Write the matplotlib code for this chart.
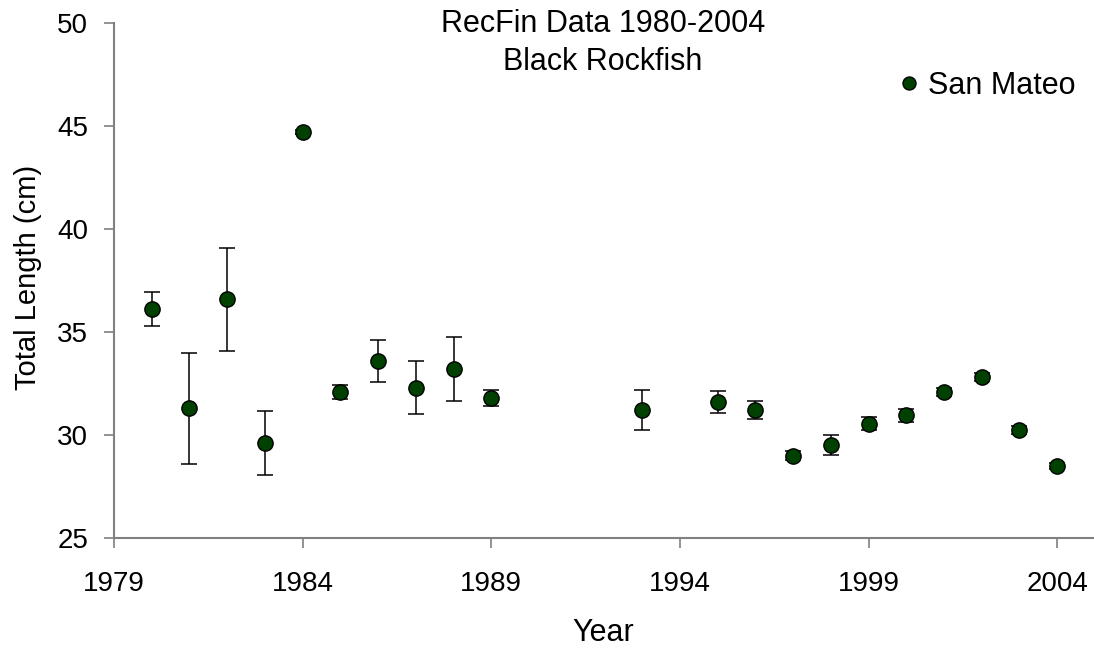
import matplotlib
matplotlib.use("Agg")
import matplotlib.pyplot as plt

plt.rcParams["font.family"] = ["Liberation Sans", "DejaVu Sans"]

# mean total length and error per year, San Mateo
years = [1980, 1981, 1982, 1983, 1984, 1985, 1986, 1987, 1988, 1989,
         1993, 1995, 1996, 1997, 1998, 1999, 2000, 2001, 2002, 2003, 2004]
length = [36.1, 31.3, 36.6, 29.6, 44.7, 32.1, 33.6, 32.3, 33.2, 31.8,
          31.2, 31.6, 31.2, 29.0, 29.5, 30.55, 30.95, 32.1, 32.8, 30.25, 28.5]
err = [0.83, 2.7, 2.5, 1.55, 0.1, 0.34, 1.02, 1.3, 1.55, 0.4,
       0.97, 0.54, 0.44, 0.2, 0.49, 0.3, 0.33, 0.2, 0.2, 0.2, 0.15]

W, H = 1094, 649
fig = plt.figure(figsize=(W / 100, H / 100), dpi=100)
ax = fig.add_axes([114 / W, 1 - 538 / H, (1093 - 114) / W, (538 - 23) / H])

ax.errorbar(years, length, yerr=err, fmt="none", ecolor="black",
            elinewidth=1.1, capsize=6, capthick=1.1)
ax.plot(years, length, "o", color="#004000", markeredgecolor="black",
        markeredgewidth=1, markersize=11, label="San Mateo")

ax.set_xlim(1979, 2004.95)
ax.set_ylim(25, 50)
ax.set_xticks(range(1979, 2005, 5))
ax.set_yticks(range(25, 51, 5))

for side in ["top", "right"]:
    ax.spines[side].set_visible(False)
for side in ["left", "bottom"]:
    ax.spines[side].set_color("#808080")
    ax.spines[side].set_linewidth(1.5)
ax.tick_params(axis="both", direction="out", length=7.5, width=1.2,
               color="#808080", labelsize=20)
ax.tick_params(axis="y", pad=11)
ax.tick_params(axis="x", pad=16)

# axis titles and chart title
fig.text(603 / W, 1 - 633 / H, "Year", ha="center", va="center", fontsize=22)
fig.text(28 / W, 1 - 277 / H, "Total Length (cm)", ha="center", va="center",
         rotation=90, fontsize=21)
fig.text(603 / W, 1 - 24 / H, "RecFin Data 1980-2004", ha="center", va="center", fontsize=22)
fig.text(603 / W, 1 - 62 / H, "Black Rockfish", ha="center", va="center", fontsize=22)

ax.legend(loc="center right", bbox_to_anchor=(1076 / W, 1 - 86 / H),
          bbox_transform=fig.transFigure, frameon=False, fontsize=22,
          handlelength=0.8, handletextpad=0.25, markerscale=0.85,
          borderaxespad=0, borderpad=0)

fig.savefig("out.png", dpi=100)
